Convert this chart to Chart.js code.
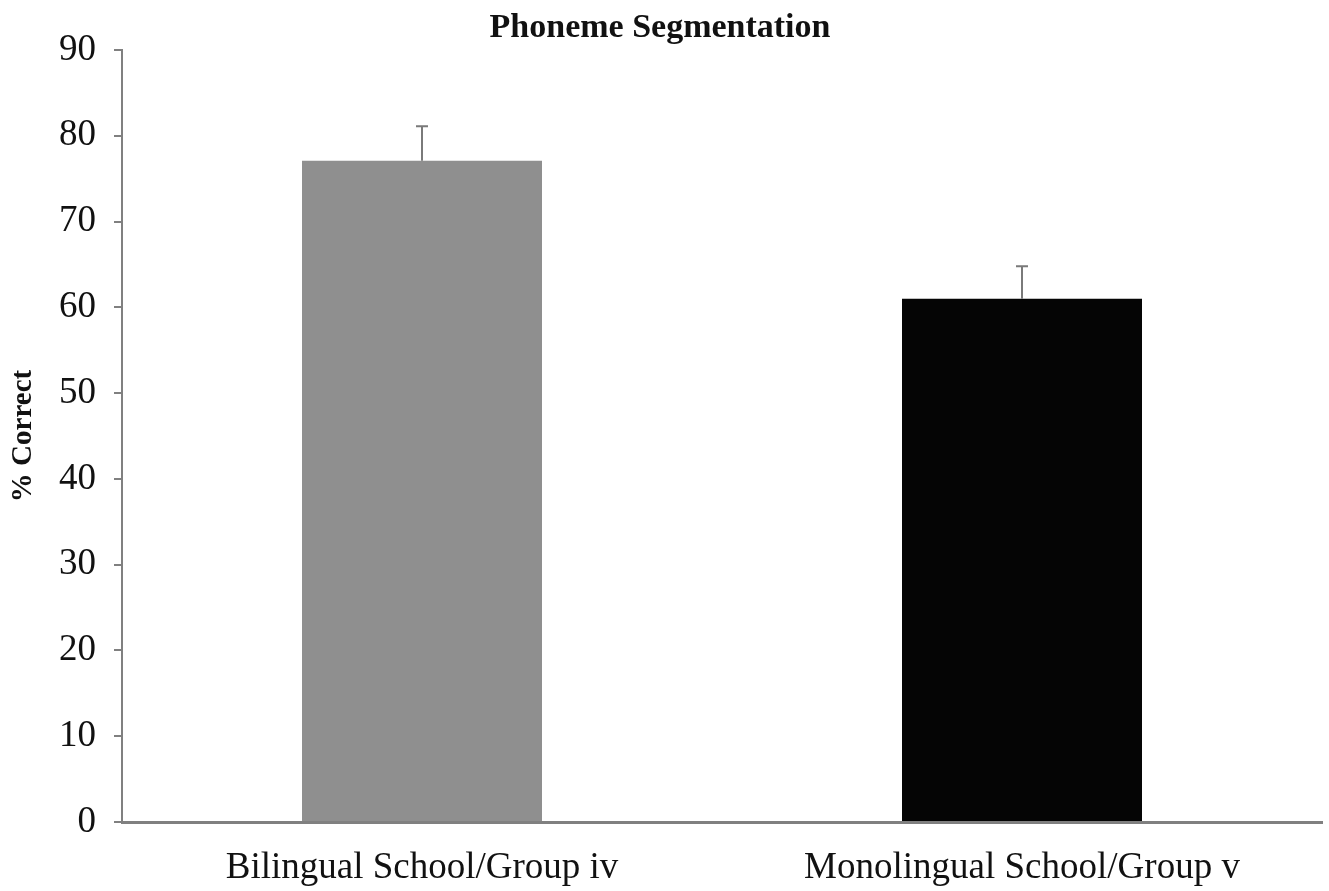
<!DOCTYPE html>
<html>
<head>
<meta charset="utf-8">
<script src="https://cdn.jsdelivr.net/npm/chart.js@4"></script>
<style>
  html, body { margin: 0; padding: 0; background: #fff; }
  #wrap { width: 1329px; height: 891px; }
</style>
</head>
<body>
<div id="wrap"><canvas id="grafico" width="1329" height="891"></canvas></div>
<script>
const categorias = ['Bilingual School/Group iv', 'Monolingual School/Group v'];
const valores = [77.1, 61.0];
const erros = [4.0, 3.8];
const cores = ['#8f8f8f', '#050505'];
const ticksY = [0, 10, 20, 30, 40, 50, 60, 70, 80, 90];

const serif = '"Liberation Serif", "Times New Roman", serif';

// barras de erro e titulo desenhados a mao
const extras = {
    id: 'extras',
    afterDatasetsDraw(chart) {
        const c = chart.ctx;
        const meta = chart.getDatasetMeta(0);
        const y = chart.scales.y;
        c.save();
        c.strokeStyle = '#7a7a7a';
        c.lineWidth = 2;
        meta.data.forEach((bar, i) => {
            const yTop = y.getPixelForValue(valores[i] + erros[i]);
            const yBase = y.getPixelForValue(valores[i]);
            c.beginPath();
            c.moveTo(bar.x, yBase);
            c.lineTo(bar.x, yTop);
            c.moveTo(bar.x - 6, yTop);
            c.lineTo(bar.x + 6, yTop);
            c.stroke();
        });
        c.fillStyle = '#111';
        c.font = 'bold 34px ' + serif;
        c.textAlign = 'center';
        c.textBaseline = 'middle';
        c.fillText('Phoneme Segmentation', 660, 28);
        c.restore();
    }
};

new Chart(document.getElementById('grafico'), {
    type: 'bar',
    data: {
        labels: categorias,
        datasets: [{
            data: valores,
            backgroundColor: cores,
            barPercentage: 0.4,
            categoryPercentage: 1.0
        }]
    },
    options: {
        responsive: false,
        animation: false,
        layout: { padding: { top: 50, right: 7, left: 0, bottom: 0 } },
        plugins: { legend: { display: false }, tooltip: { enabled: false } },
        scales: {
            x: {
                grid: { display: false, drawTicks: false },
                border: { color: '#808080', width: 3 },
                ticks: { color: '#111', font: { family: serif, size: 37 }, padding: 24 },
                afterFit(s) { s.height = 69; }
            },
            y: {
                min: 0,
                max: 90,
                afterBuildTicks(s) { s.ticks = ticksY.map(v => ({ value: v })); },
                grid: { drawOnChartArea: false, tickLength: 8, color: '#808080', lineWidth: 2 },
                border: { color: '#808080', width: 2 },
                ticks: { color: '#111', font: { family: serif, size: 37 }, padding: 18 },
                title: {
                    display: true,
                    text: '% Correct',
                    color: '#111',
                    font: { family: serif, size: 29, weight: 'bold' },
                    padding: { top: 6, bottom: 0 }
                },
                afterFit(s) { s.width = 122; }
            }
        }
    },
    plugins: [extras]
});
</script>
</body>
</html>
